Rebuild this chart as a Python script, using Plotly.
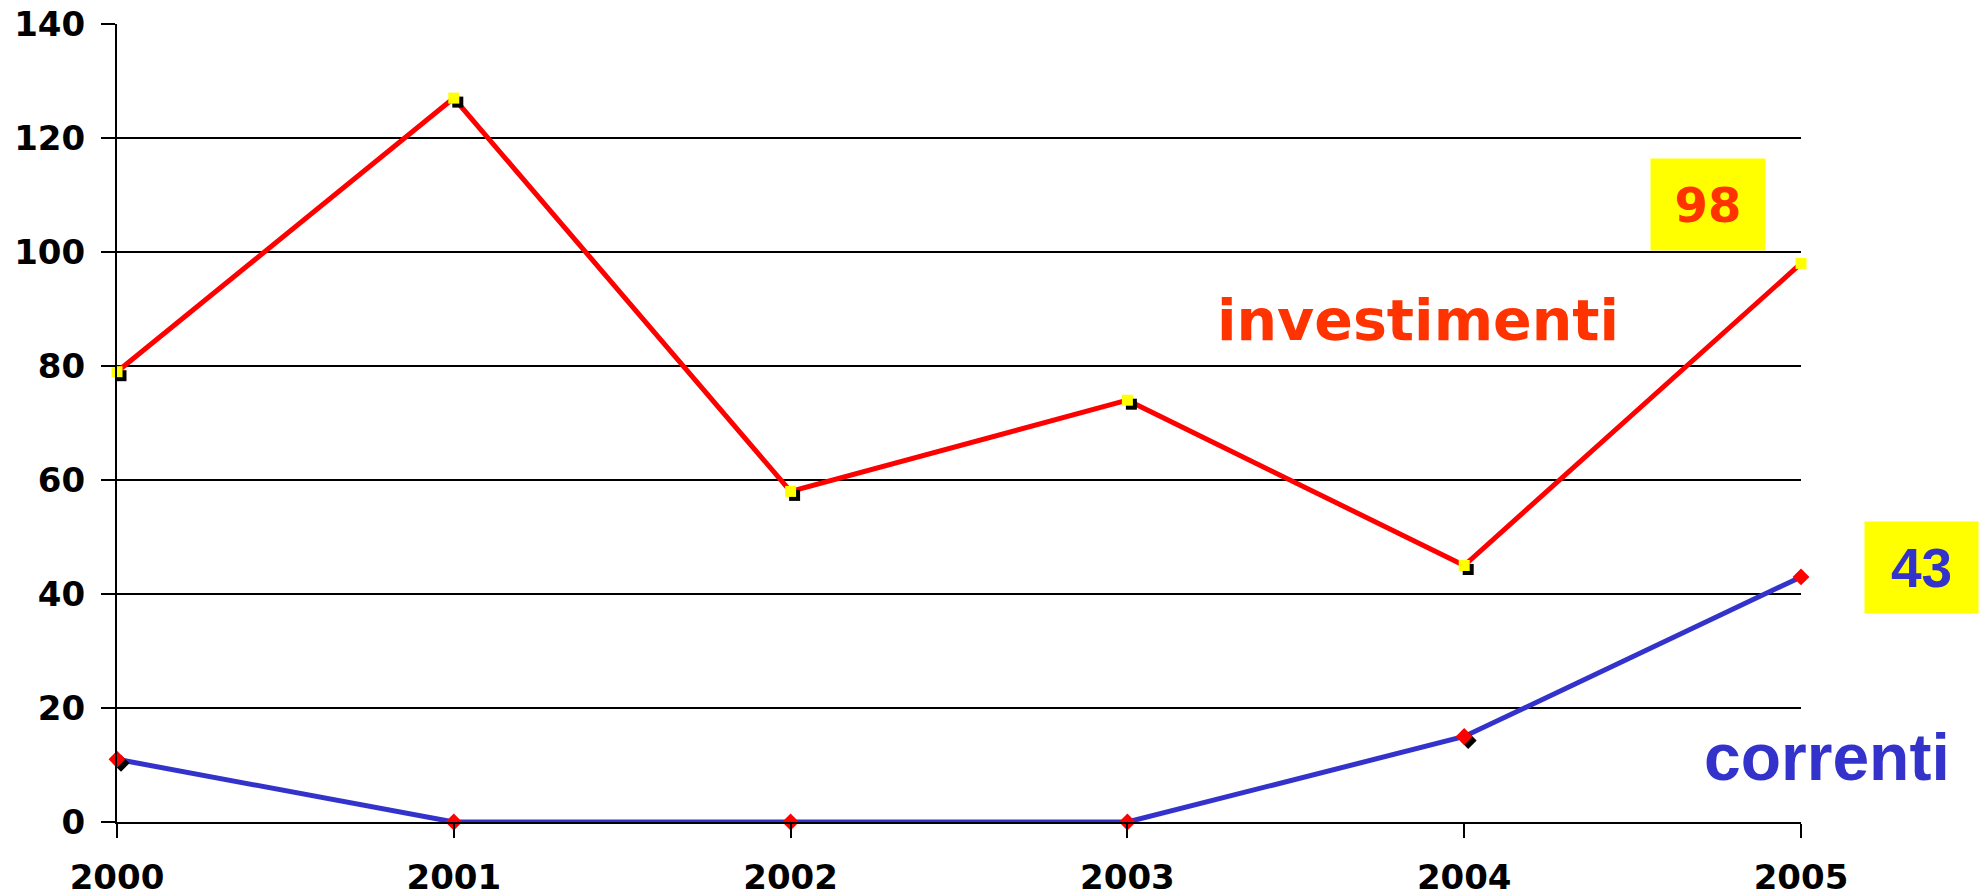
import plotly.graph_objects as go

years = [2000, 2001, 2002, 2003, 2004, 2005]
investimenti = [79, 127, 58, 74, 45, 98]
correnti = [11, 0, 0, 0, 15, 43]
y_ticks = [0, 20, 40, 60, 80, 100, 120, 140]
x_labels = ["2000", "2001", "2002", "2003", "2004", "2005"]

W, H = 1981, 896
ML, MR, MT, MB = 117, 180, 24, 74
pw = W - ML - MR
ph = H - MT - MB
x0, x1 = 2000, 2005
y0, y1 = 0, 140
sh = 4  # shadow offset px
dx = sh * (x1 - x0) / pw
dy = sh * (y1 - y0) / ph

RED = "#FF0000"
ORANGE = "#FF3300"
BLUE = "#3333CC"
YELLOW = "#FFFF00"

fig = go.Figure()

# lines on the main axes
fig.add_trace(go.Scatter(x=years, y=investimenti, mode="lines", name="investimenti",
                         line=dict(color=RED, width=5), cliponaxis=False, showlegend=False))
fig.add_trace(go.Scatter(x=years, y=correnti, mode="lines", name="correnti",
                         line=dict(color=BLUE, width=5), cliponaxis=False, showlegend=False))
# marker shadows (overlay axes shifted by a few px)
fig.add_trace(go.Scatter(x=years, y=investimenti, mode="markers", xaxis="x2", yaxis="y2",
                         marker=dict(symbol="square", size=11, color="black"),
                         cliponaxis=False, showlegend=False, hoverinfo="skip"))
fig.add_trace(go.Scatter(x=years, y=correnti, mode="markers", xaxis="x2", yaxis="y2",
                         marker=dict(symbol="diamond", size=13, color="black"),
                         cliponaxis=False, showlegend=False, hoverinfo="skip"))
# markers on top overlay axes (same ranges as main)
fig.add_trace(go.Scatter(x=years, y=investimenti, mode="markers", xaxis="x3", yaxis="y3",
                         marker=dict(symbol="square", size=11, color=YELLOW),
                         cliponaxis=False, showlegend=False))
fig.add_trace(go.Scatter(x=years, y=correnti, mode="markers", xaxis="x3", yaxis="y3",
                         marker=dict(symbol="diamond", size=13, color=RED),
                         cliponaxis=False, showlegend=False))

tickfont = dict(family="DejaVu Sans", size=34, color="black", weight="bold")

fig.update_layout(
    width=W, height=H,
    margin=dict(l=ML, r=MR, t=MT, b=MB, pad=0),
    paper_bgcolor="white", plot_bgcolor="white",
    xaxis=dict(range=[x0, x1], tickvals=years, ticktext=x_labels, showgrid=False,
               showline=True, linecolor="black", linewidth=2, ticks="outside",
               ticklen=14, tickwidth=2, tickcolor="black", tickfont=tickfont,
               zeroline=False, ticklabelstandoff=10, automargin=False),
    yaxis=dict(range=[y0, y1], tickvals=y_ticks, showgrid=True, gridcolor="black",
               gridwidth=2, showline=True, linecolor="black", linewidth=2,
               ticks="outside", ticklen=14, tickwidth=2, tickcolor="black",
               tickfont=tickfont, zeroline=False, ticklabelstandoff=9, automargin=False),
    xaxis2=dict(range=[x0 - dx, x1 - dx], overlaying="x", visible=False),
    yaxis2=dict(range=[y0 + dy, y1 + dy], overlaying="y", visible=False),
    xaxis3=dict(range=[x0, x1], overlaying="x", visible=False),
    yaxis3=dict(range=[y0, y1], overlaying="y", visible=False),
)

fig.add_annotation(x=0.7726, y=0.6295, xref="paper", yref="paper", text="investimenti",
                   xanchor="center", yanchor="middle", showarrow=False,
                   font=dict(family="DejaVu Sans", size=57, color=ORANGE, weight="bold"))
fig.add_annotation(x=1.0154, y=0.082, xref="paper", yref="paper", text="correnti",
                   xanchor="center", yanchor="middle", showarrow=False,
                   font=dict(family="Liberation Sans", size=66, color=BLUE, weight="bold"))
fig.add_annotation(x=0.9448, y=0.7738, xref="paper", yref="paper", text="98",
                   xanchor="center", yanchor="middle", showarrow=False,
                   bgcolor=YELLOW, width=112, height=89,
                   font=dict(family="DejaVu Sans", size=48, color=ORANGE, weight="bold"))
fig.add_annotation(x=1.0715, y=0.3189, xref="paper", yref="paper", text="43",
                   xanchor="center", yanchor="middle", showarrow=False,
                   bgcolor=YELLOW, width=111, height=89,
                   font=dict(family="Liberation Sans", size=55, color=BLUE, weight="bold"))

fig.write_html("out.html", config={"displayModeBar": False},
               post_script="document.body.style.margin='0';document.body.style.padding='0';"
                           "document.documentElement.style.overflow='hidden';")
